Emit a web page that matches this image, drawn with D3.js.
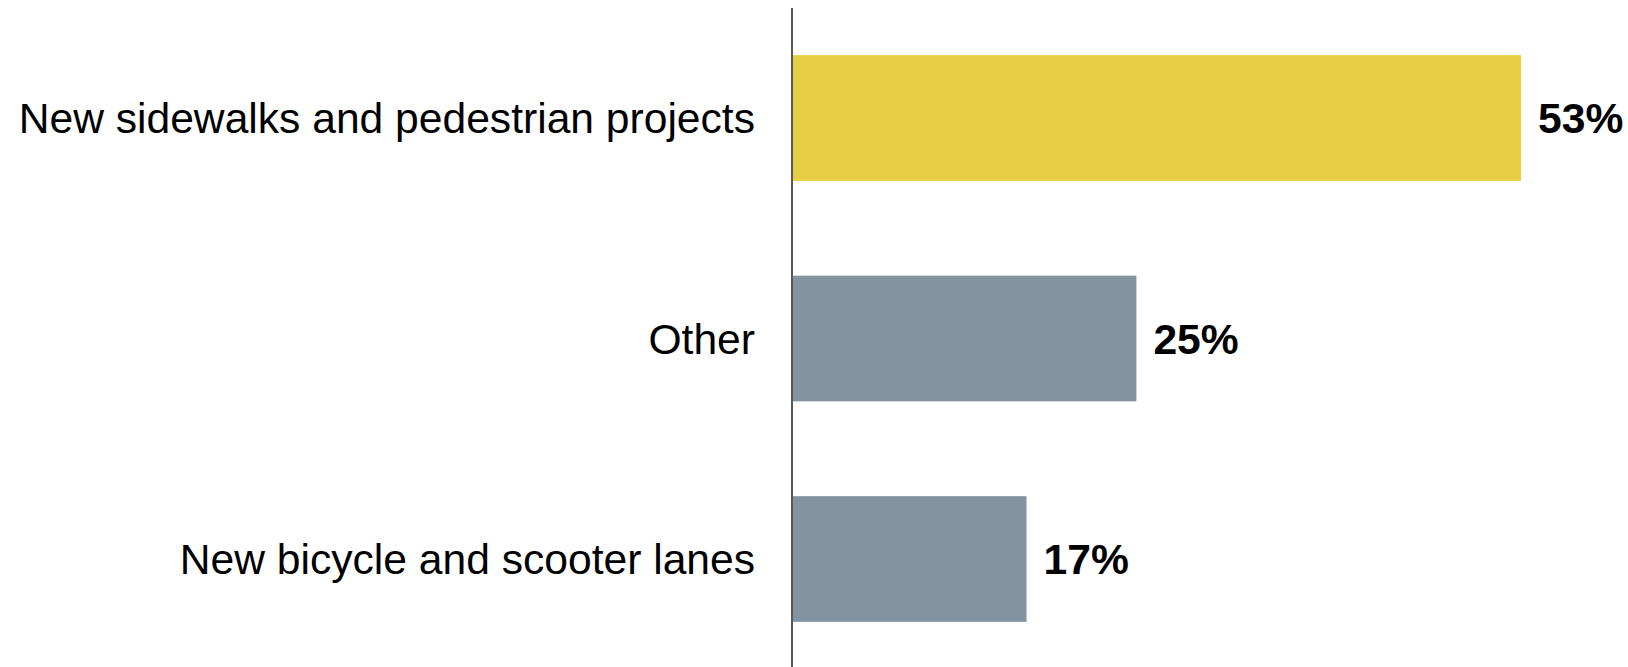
<!DOCTYPE html>
<html><head><meta charset="utf-8">
<script src="https://cdn.jsdelivr.net/npm/d3@7"></script>
<style>html,body{margin:0;padding:0;background:#fff;}svg{display:block;}</style>
</head><body>
<script>
const categories = ["New sidewalks and pedestrian projects", "Other", "New bicycle and scooter lanes"];
const values = [53, 25, 17];
const barColors = ["#E8CE45", "#8294A0", "#8294A0"];

const W = 1628, H = 667;
const svg = d3.select("body").append("svg").attr("width", W).attr("height", H);

const x0 = 793;
const x = d3.scaleLinear().domain([0, 53]).range([x0, 1521]);
const y = d3.scaleBand().domain(categories).range([7.75, 669.25]).paddingInner(0.43).paddingOuter(0.215);

svg.selectAll("rect.bar").data(values).join("rect")
  .attr("class", "bar")
  .attr("x", x(0))
  .attr("y", (d, i) => y(categories[i]))
  .attr("width", d => x(d) - x(0))
  .attr("height", y.bandwidth())
  .attr("fill", (d, i) => barColors[i]);

svg.append("line").attr("x1", 792).attr("x2", 792).attr("y1", 8).attr("y2", H)
  .attr("stroke", "#222").attr("stroke-width", 1.5);

svg.selectAll("text.cat").data(categories).join("text")
  .attr("class", "cat")
  .attr("x", 755)
  .attr("y", d => y(d) + y.bandwidth() / 2)
  .attr("dy", "0.36em")
  .attr("text-anchor", "end")
  .attr("font-family", "Liberation Sans, Arial, sans-serif")
  .attr("font-size", 42.6)
  .attr("fill", "#000")
  .text(d => d);

svg.selectAll("text.val").data(values).join("text")
  .attr("class", "val")
  .attr("x", d => x(d) + 17)
  .attr("y", (d, i) => y(categories[i]) + y.bandwidth() / 2)
  .attr("dy", "0.36em")
  .attr("font-family", "Liberation Sans, Arial, sans-serif")
  .attr("font-weight", "bold")
  .attr("font-size", 42.6)
  .attr("fill", "#000")
  .text(d => d + "%");
</script>
</body></html>
